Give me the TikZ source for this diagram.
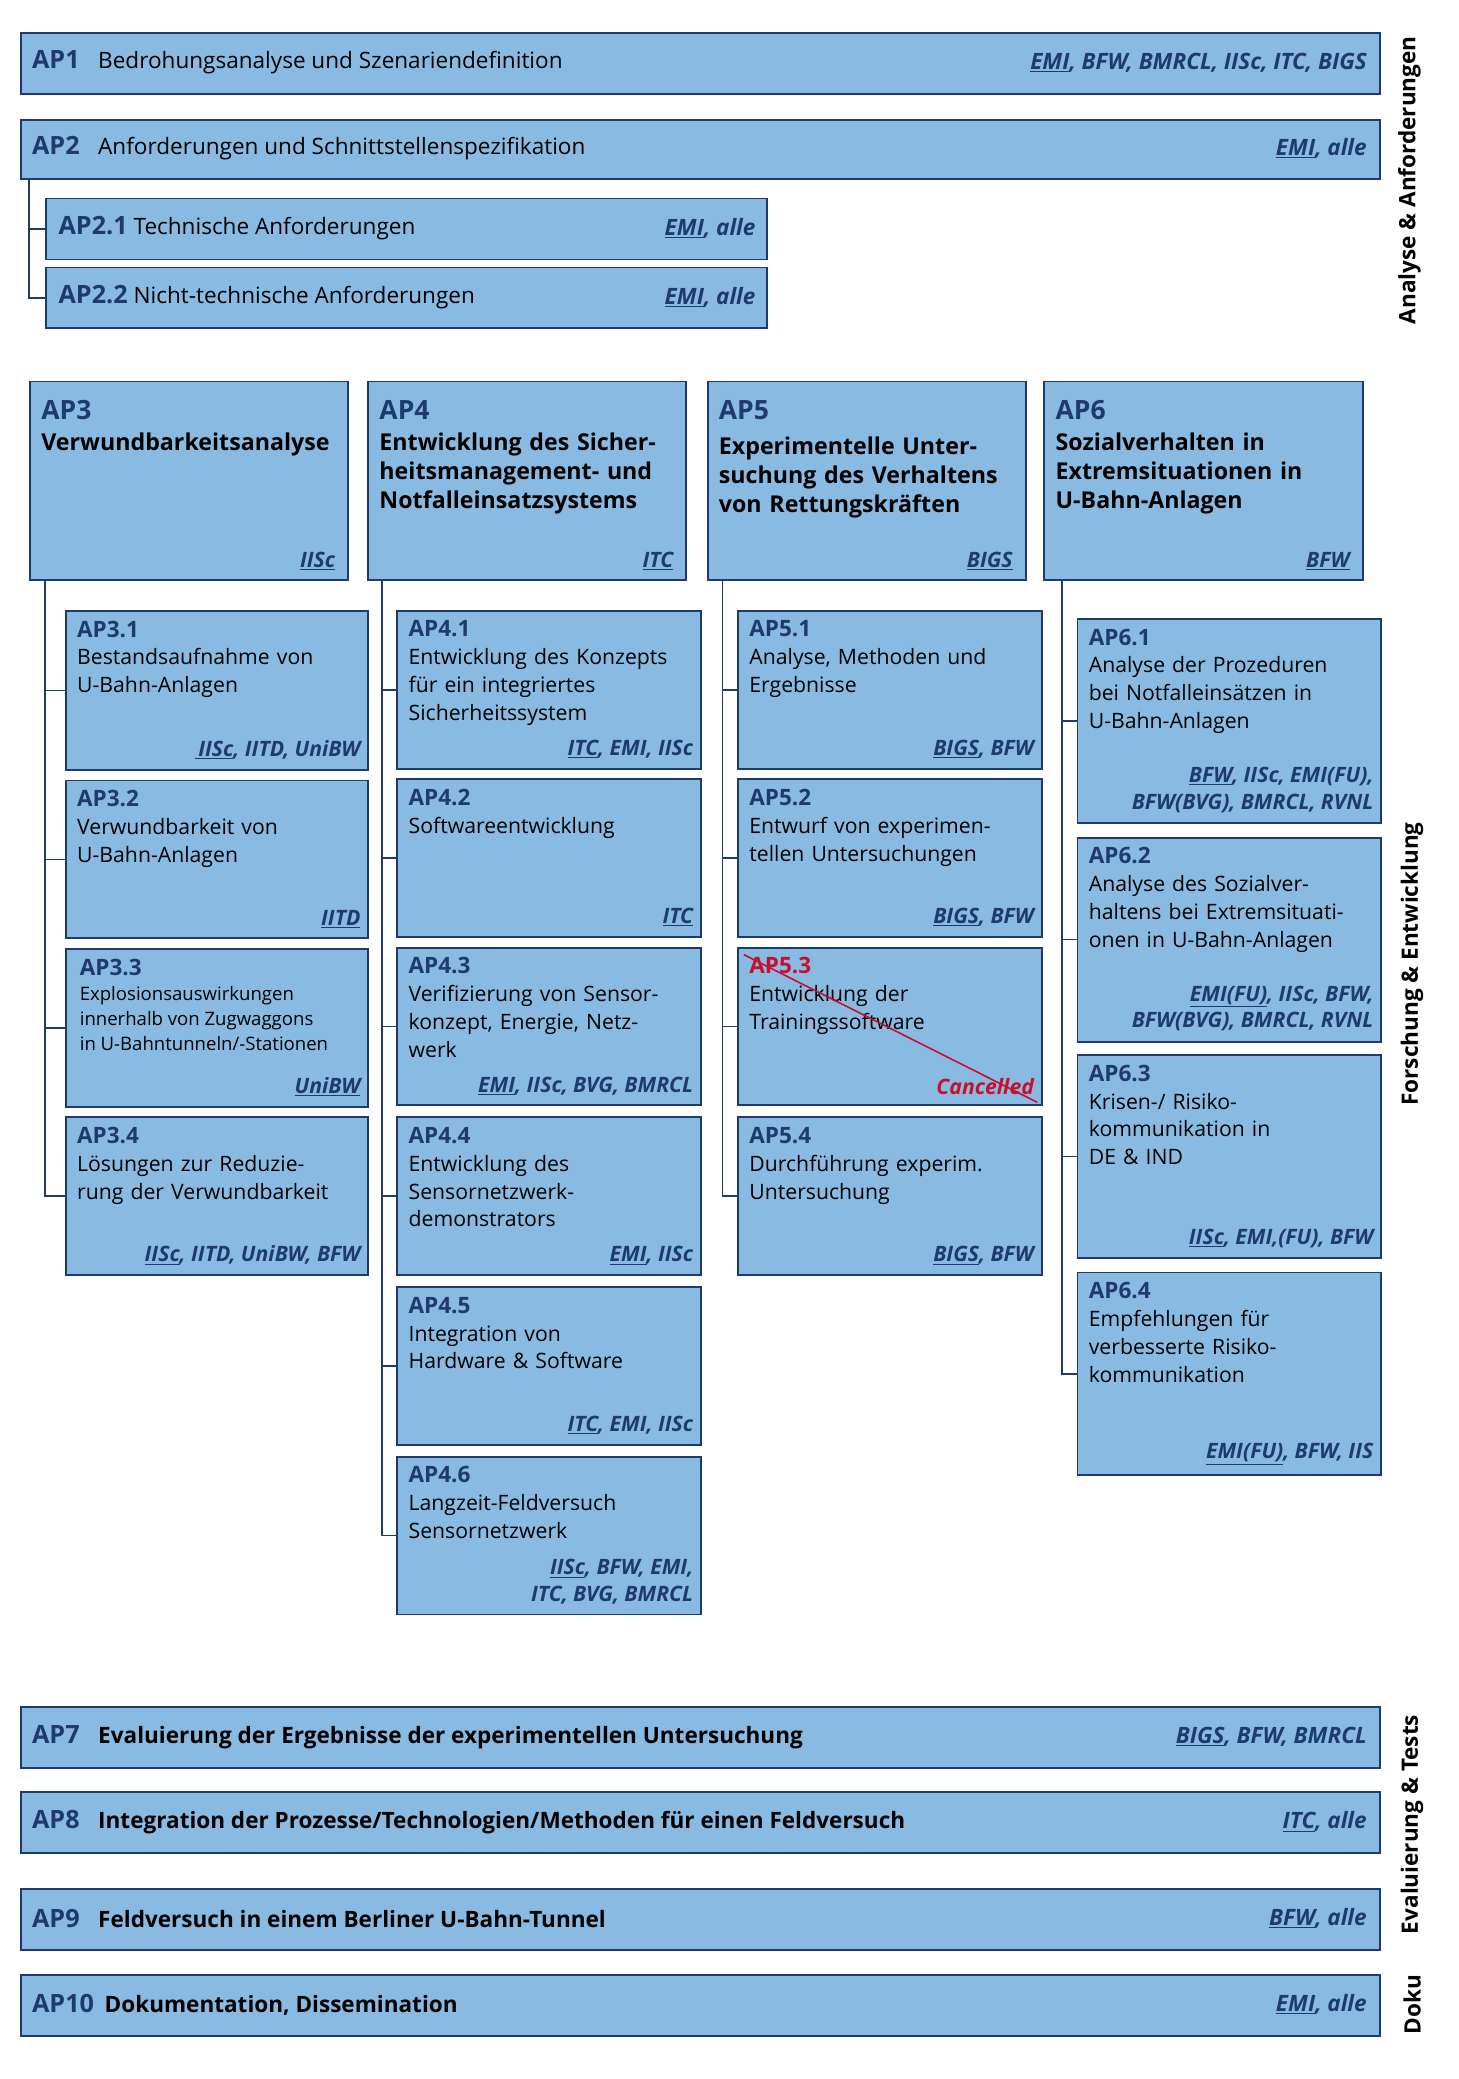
\documentclass[tikz,border=0pt]{standalone}
\usepackage{fontspec}
\setmainfont{Open Sans}
\usetikzlibrary{calc}
\definecolor{navy}{HTML}{1F3A6E}
\definecolor{fillb}{HTML}{89BBE2}
\definecolor{cred}{HTML}{C8102E}
\newcommand{\pu}[1]{\underline{#1}}
\tikzset{
  wpbox/.style={draw=navy, line width=1.4pt, fill=fillb, rectangle, inner sep=0pt, anchor=north west},
  conn/.style={draw=navy, line width=1.2pt},
  ptn/.style={anchor=south east, inner sep=0pt, text=navy, font=\fontsize{16}{20}\selectfont\bfseries\itshape, align=right},
  subtxt/.style={anchor=north west, inner sep=0pt, align=left, font=\fontsize{16}{21}\selectfont},
  side/.style={rotate=90, font=\fontsize{17}{20}\selectfont\bfseries, inner sep=0pt}
}
\newcommand{\wpb}[5]{\node[wpbox, minimum width={#4-#2}, minimum height={#5-#3}] (#1) at (#2,#3) {};}
\newcommand{\subwp}[7]{\wpb{#1}{#2}{#3}{#4}{#5}
  \node[subtxt, text width={#4-#2-16}] (#1t) at (#2+9,#3+8) {#6};
  \node[ptn] (#1p) at (#4-5,#5-7) {#7};}
\newcommand{\wpn}[1]{{\color{navy}\bfseries\fontsize{17}{21}\selectfont #1}}
\newcommand{\widewp}[6]{\wpb{#1}{15}{#2}{1040}{#3}
  \node[anchor=west, inner sep=0pt, font=\fontsize{17}{20}\selectfont] (#1t) at (24,{(#2+#3)/2}) {{\color{navy}\bfseries\fontsize{19}{20}\selectfont #4}\hspace{#6}#5};}
\newcommand{\widep}[3]{\node[anchor=east, inner sep=0pt, text=navy, font=\fontsize{17}{20}\selectfont\bfseries\itshape] (#1p) at (1031,{(#2)}) {#3};}
\begin{document}
\begin{tikzpicture}[x=1pt,y=-1pt]
\useasboundingbox[fill=white] (0,0) rectangle (1100,1568);
\widewp{ap1}{24}{70}{AP1}{Bedrohungsanalyse und Szenariendefinition}{14pt}
\widep{ap1}{47}{\pu{EMI}, BFW, BMRCL, IISc, ITC, BIGS}
\widewp{ap2}{90}{134}{AP2}{Anforderungen und Schnittstellenspezifikation}{14pt}
\widep{ap2}{112}{\pu{EMI}, alle}
\wpb{ap21}{34}{149}{578}{195}
\node[anchor=west, inner sep=0pt, font=\fontsize{17}{20}\selectfont] (ap21t) at (44,172) {{\color{navy}\bfseries\fontsize{19}{20}\selectfont AP2.1} Technische Anforderungen};
\node[anchor=east, inner sep=0pt, text=navy, font=\fontsize{17}{20}\selectfont\bfseries\itshape] (ap21p) at (570,172) {\pu{EMI}, alle};
\wpb{ap22}{34}{201}{578}{247}
\node[anchor=west, inner sep=0pt, font=\fontsize{17}{20}\selectfont] (ap22t) at (44,224) {{\color{navy}\bfseries\fontsize{19}{20}\selectfont AP2.2} Nicht-technische Anforderungen};
\node[anchor=east, inner sep=0pt, text=navy, font=\fontsize{17}{20}\selectfont\bfseries\itshape] (ap22p) at (570,224) {\pu{EMI}, alle};
\draw[conn] ($(ap2.south west)+(7,0)$) |- (ap21.west);
\draw[conn] ($(ap2.south west)+(7,0)$) |- (ap22.west);
\newcommand{\hdr}[7]{\wpb{#1}{#2}{287}{#3}{437}
  \node[anchor=north west, inner sep=0pt, align=left, text width={#3-#2-14}, font=\fontsize{17.5}{22}\selectfont\bfseries] (#1t) at (#2+9,302) {{\color{navy}\fontsize{20}{22}\selectfont #4}\\[#7]#5};
  \node[ptn] (#1p) at (#3-9,430) {\pu{#6}};}
\hdr{ap3}{22}{262}{AP3}{Verwundbarkeitsanalyse}{IISc}{1pt}
\hdr{ap4}{277}{517}{AP4}{Entwicklung des Sicher-\\heitsmanagement- und\\Notfalleinsatzsystems}{ITC}{1pt}
\hdr{ap5}{533}{773}{AP5}{Experimentelle Unter-\\suchung des Verhaltens\\von Rettungskräften}{BIGS}{4pt}
\hdr{ap6}{787}{1027}{AP6}{Sozialverhalten in\\Extremsituationen in\\U-Bahn-Anlagen}{BFW}{1pt}
\subwp{ap31}{49}{460}{277}{580}{\wpn{AP3.1}\\Bestandsaufnahme von\\U-Bahn-Anlagen}{\pu{\,IISc}, IITD, UniBW}
\subwp{ap32}{49}{588}{277}{707}{\wpn{AP3.2}\\Verwundbarkeit von\\U-Bahn-Anlagen}{\pu{IITD}}
\wpb{ap33}{49}{715}{277}{834}
\node[subtxt, font=\fontsize{14}{19}\selectfont] (ap33t) at (60,723) {\wpn{AP3.3}\\Explosionsauswirkungen\\innerhalb von Zugwaggons\\in U-Bahntunneln/-Stationen};
\node[ptn] (ap33p) at (272,827) {\pu{UniBW}};
\subwp{ap34}{49}{842}{277}{961}{\wpn{AP3.4}\\Lösungen zur Reduzie-\\rung der Verwundbarkeit}{\pu{IISc}, IITD, UniBW, BFW}
\foreach \n in {ap31,ap32,ap33,ap34}{\draw[conn] ($(ap3.south west)+(12,0)$) |- (\n.west);}
\subwp{ap41}{299}{460}{528}{579}{\wpn{AP4.1}\\Entwicklung des Konzepts\\für ein integriertes\\Sicherheitssystem}{\pu{ITC}, EMI, IISc}
\subwp{ap42}{299}{587}{528}{706}{\wpn{AP4.2}\\Softwareentwicklung}{\pu{ITC}}
\subwp{ap43}{299}{714}{528}{833}{\wpn{AP4.3}\\Verifizierung von Sensor-\\konzept, Energie, Netz-\\werk}{\pu{EMI}, IISc, BVG, BMRCL}
\subwp{ap44}{299}{842}{528}{961}{\wpn{AP4.4}\\Entwicklung des\\Sensornetzwerk-\\demonstrators}{\pu{EMI}, IISc}
\subwp{ap45}{299}{970}{528}{1089}{\wpn{AP4.5}\\Integration von\\Hardware \& Software}{\pu{ITC}, EMI, IISc}
\subwp{ap46}{299}{1098}{528}{1217}{\wpn{AP4.6}\\Langzeit-Feldversuch\\Sensornetzwerk}{\pu{IISc}, BFW, EMI,\\ITC, BVG, BMRCL}
\foreach \n in {ap41,ap42,ap43,ap44,ap45,ap46}{\draw[conn] ($(ap4.south west)+(11,0)$) |- (\n.west);}
\subwp{ap51}{556}{460}{785}{579}{\wpn{AP5.1}\\Analyse, Methoden und\\Ergebnisse}{\pu{BIGS}, BFW}
\subwp{ap52}{556}{587}{785}{706}{\wpn{AP5.2}\\Entwurf von experimen-\\tellen Untersuchungen}{\pu{BIGS}, BFW}
\subwp{ap53}{556}{714}{785}{833}{{\color{cred}\bfseries\fontsize{17}{21}\selectfont AP5.3}\\Entwicklung der\\Trainingssoftware}{\color{cred}Cancelled}
\subwp{ap54}{556}{842}{785}{961}{\wpn{AP5.4}\\Durchführung experim.\\Untersuchung}{\pu{BIGS}, BFW}
\draw[cred, line width=1.2pt] ($(ap53.north west)+(5,6)$) -- ($(ap53.south east)+(-4,-3)$);
\foreach \n in {ap51,ap52,ap53,ap54}{\draw[conn] ($(ap5.south west)+(12,0)$) |- (\n.west);}
\subwp{ap61}{812}{466}{1041}{620}{\wpn{AP6.1}\\Analyse der Prozeduren\\bei Notfalleinsätzen in\\U-Bahn-Anlagen}{\pu{BFW}, IISc, EMI(FU),\\BFW(BVG), BMRCL, RVNL}
\subwp{ap62}{812}{631}{1041}{785}{\wpn{AP6.2}\\Analyse des Sozialver-\\haltens bei Extremsituati-\\onen in U-Bahn-Anlagen}{\pu{EMI(FU)}, IISc, BFW,\\BFW(BVG), BMRCL, RVNL}
\subwp{ap63}{812}{795}{1041}{948}{\wpn{AP6.3}\\Krisen-/ Risiko-\\kommunikation in\\DE \& IND}{\pu{IISc}, EMI,(FU), BFW}
\subwp{ap64}{812}{959}{1041}{1112}{\wpn{AP6.4}\\Empfehlungen für\\verbesserte Risiko-\\kommunikation}{\pu{EMI(FU)}, BFW, IIS}
\foreach \n in {ap61,ap62,ap63,ap64}{\draw[conn] ($(ap6.south west)+(14,0)$) |- (\n.west);}
\widewp{ap7}{1287}{1333}{AP7}{\bfseries Evaluierung der Ergebnisse der experimentellen Untersuchung}{14pt}
\widep{ap7}{1310}{\pu{BIGS}, BFW, BMRCL}
\widewp{ap8}{1351}{1397}{AP8}{\bfseries Integration der Prozesse/Technologien/Methoden für einen Feldversuch}{14pt}
\widep{ap8}{1374}{\pu{ITC}, alle}
\widewp{ap9}{1424}{1470}{AP9}{\bfseries Feldversuch in einem Berliner U-Bahn-Tunnel}{14pt}
\widep{ap9}{1447}{\pu{BFW}, alle}
\widewp{ap10}{1489}{1535}{AP10}{\bfseries Dokumentation, Dissemination}{8pt}
\widep{ap10}{1512}{\pu{EMI}, alle}
\node[side] (s1) at (1063,136) {Analyse \& Anforderungen};
\node[side] (s2) at (1065,727) {Forschung \& Entwicklung};
\node[side] (s3) at (1065,1376) {Evaluierung \& Tests};
\node[side] (s4) at (1065,1512) {Doku};
\end{tikzpicture}
\end{document}
